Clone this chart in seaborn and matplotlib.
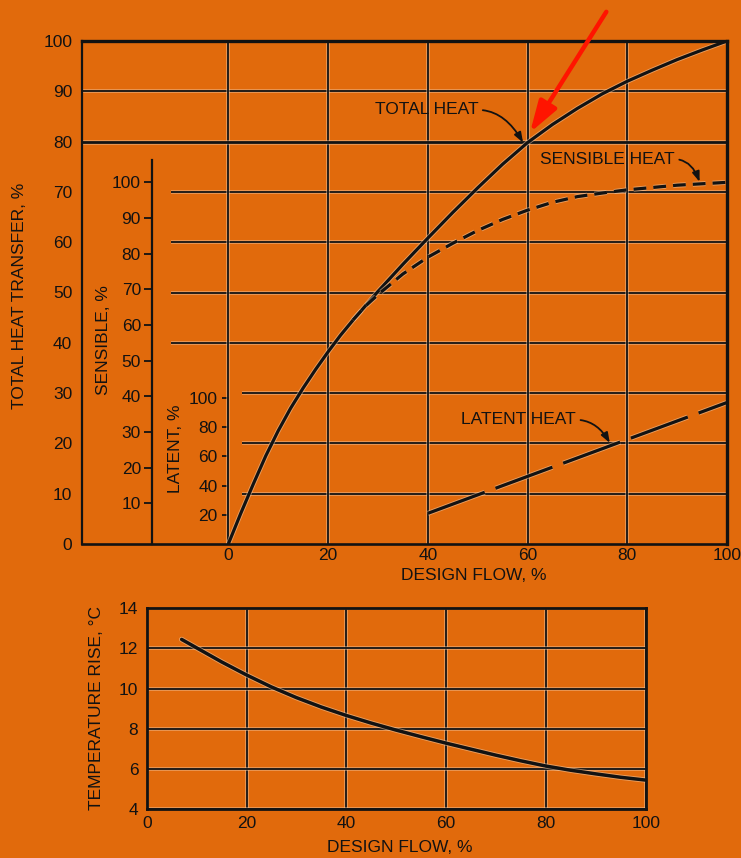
import matplotlib
matplotlib.use("Agg")
import matplotlib.pyplot as plt
import matplotlib.patheffects as pe
import pandas as pd
import seaborn as sns

# ---- curve readings (design flow in %) ----
flow_total = [0, 2.5, 5, 7.5, 10, 12.5, 15, 17.5, 20, 22.5, 25, 30, 35, 40,
              45, 50, 55, 60, 65, 70, 75, 80, 85, 90, 95, 100]
total_heat = [0, 6.1, 11.9, 17.5, 22.5, 27.0, 31.0, 34.7, 38.2, 41.5, 44.5,
              50.2, 55.6, 60.8, 65.9, 70.8, 75.5, 79.8, 83.4, 86.6, 89.5,
              92.0, 94.2, 96.3, 98.2, 100]

flow_sensible = [25, 27.5, 30, 35, 40, 45, 50, 55, 60, 65, 70, 75, 80, 90, 100]
sensible_heat = [61.4, 65.3, 68.5, 74.3, 79.0, 82.9, 86.5, 89.6, 92.2, 94.4,
                 96.0, 97.0, 97.9, 99.2, 100]

flow_latent = [40, 100]
latent_heat = [21, 97]

flow_temp = [7, 10, 15, 20, 25, 30, 35, 40, 45, 50, 55, 60, 65, 70, 75, 80,
             85, 90, 95, 100]
temp_rise = [12.45, 12.03, 11.33, 10.68, 10.08, 9.55, 9.08, 8.66, 8.28, 7.93,
             7.6, 7.28, 6.98, 6.68, 6.4, 6.14, 5.93, 5.75, 5.58, 5.44]

# ---- tick sets ----
flow_ticks = [0, 20, 40, 60, 80, 100]
total_ticks = list(range(0, 101, 10))
sensible_ticks = list(range(10, 101, 10))
latent_ticks = [20, 40, 60, 80, 100]
temp_ticks = [4, 6, 8, 10, 12, 14]

# the sensible and latent scales expressed on the total-heat scale
SENS_OFFSET, SENS_SLOPE = 1.0, 0.709
LAT_SLOPE = 0.29

BG = "#E16A0C"
INK = "#121212"
HALO = "#F2CBA6"
RED = "#FF1400"
FS = 12.5

sns.set_theme(style="white", rc={
    "axes.facecolor": BG, "figure.facecolor": BG, "axes.edgecolor": INK,
    "text.color": INK, "xtick.color": INK, "ytick.color": INK,
    "axes.labelcolor": INK,
})
plt.rcParams["font.family"] = ["Liberation Sans", "DejaVu Sans"]

W, H = 741, 858


def fx(px):
    return px / W


def fy(py):
    return 1 - py / H


def halo(width):
    return [pe.Stroke(linewidth=width + 1.3, foreground=HALO, alpha=0.55),
            pe.Normal()]


fig = plt.figure(figsize=(W / 100, H / 100), dpi=100)
fig.patch.set_facecolor(BG)

# ================= heat transfer chart =================
XMIN = -29.34
ax = fig.add_axes([fx(82), fy(544), (727 - 82) / W, (544 - 41) / H])
ax.set_facecolor(BG)

# grid segments
GLW = 1.3
grid = [
    ax.hlines([90], XMIN, 100, color=INK, lw=GLW),
    ax.hlines([40, 50, 60, 70], -11.5, 100, color=INK, lw=GLW),
    ax.hlines([10, 20, 30], 2.7, 100, color=INK, lw=GLW),
    ax.vlines([0, 20, 40, 60, 80], 0, 100, color=INK, lw=GLW),
]
for g in grid:
    g.set_path_effects(halo(GLW))
ax.hlines([80], XMIN, 100, color=INK, lw=2.0).set_path_effects(halo(2.0))

df_total = pd.DataFrame({"flow": flow_total, "heat": total_heat})
sns.lineplot(data=df_total, x="flow", y="heat", ax=ax, color=INK,
             linewidth=2.3)

df_sens = pd.DataFrame({
    "flow": flow_sensible,
    "heat": [SENS_OFFSET + SENS_SLOPE * s for s in sensible_heat],
})
sns.lineplot(data=df_sens, x="flow", y="heat", ax=ax, color=INK,
             linewidth=2.3, linestyle=(0, (4, 2.2)))

df_lat = pd.DataFrame({
    "flow": flow_latent,
    "heat": [LAT_SLOPE * v for v in latent_heat],
})
sns.lineplot(data=df_lat, x="flow", y="heat", ax=ax, color=INK,
             linewidth=2.3, linestyle=(0, (19, 3.6)))

for line in ax.get_lines():
    line.set_path_effects(halo(2.3))

ax.set_xlim(XMIN, 100)
ax.set_ylim(0, 100)
ax.set_xlabel("")
ax.set_ylabel("")
ax.set_xticks(flow_ticks)
ax.set_yticks(total_ticks)
ax.tick_params(axis="x", length=0, pad=3.2, labelsize=FS)
ax.tick_params(axis="y", direction="in", length=4.5, width=1.3, pad=7,
               labelsize=FS)
for side, lw in (("top", 2.4), ("right", 2.4), ("bottom", 1.9), ("left", 1.6)):
    ax.spines[side].set_visible(True)
    ax.spines[side].set_linewidth(lw)
    ax.spines[side].set_color(INK)

# sensible scale
sens = ax.secondary_yaxis(
    (152.3 - 82) / 645,
    functions=(lambda t: (t - SENS_OFFSET) / SENS_SLOPE,
               lambda s: SENS_OFFSET + SENS_SLOPE * s))
sens.set_yticks(sensible_ticks)
sens.spines["left"].set_bounds(-1.4, 106.3)
sens.spines["left"].set_linewidth(1.6)
sens.tick_params(axis="y", direction="out", length=5.8, width=1.3, pad=2.4,
                 labelsize=FS)

# latent scale
lat = ax.secondary_yaxis(
    (228.3 - 82) / 645,
    functions=(lambda t: t / LAT_SLOPE, lambda v: LAT_SLOPE * v))
lat.set_yticks(latent_ticks)
lat.spines["left"].set_bounds(0, 100)
lat.spines["left"].set_linewidth(1.3)
lat.tick_params(axis="y", direction="out", length=4.5, width=1.3, pad=3.2,
                labelsize=FS)

# curve call-outs
lead = dict(arrowstyle="-|>,head_length=0.6,head_width=0.22", color=INK,
            lw=1.3, mutation_scale=10, shrinkA=1, shrinkB=0, relpos=(1, 0.5))
ax.annotate("TOTAL HEAT", xy=(59.1, 79.8), xytext=(50.1, 86.3),
            ha="right", va="center", fontsize=FS,
            arrowprops={**lead, "connectionstyle": "angle3,angleA=0,angleB=-60"})
ax.annotate("SENSIBLE HEAT", xy=(94.5, 72.0), xytext=(89.5, 76.5),
            ha="right", va="center", fontsize=FS,
            arrowprops={**lead, "connectionstyle": "angle3,angleA=0,angleB=-70"})
ax.annotate("LATENT HEAT", xy=(76.5, 20.1), xytext=(69.7, 24.7),
            ha="right", va="center", fontsize=FS,
            arrowprops={**lead, "connectionstyle": "angle3,angleA=0,angleB=-60"})

# red pointer to the 60 % flow / 80 % heat point
ax.annotate("", xy=(60.5, 81.8), xytext=(75.8, 105.8), annotation_clip=False,
            arrowprops=dict(arrowstyle="-|>,head_length=1.9,head_width=0.6",
                            color=RED, lw=3.2, mutation_scale=10,
                            shrinkA=0, shrinkB=0))

fig.text(fx(20), fy(296), "TOTAL HEAT TRANSFER, %", rotation=90,
         ha="center", va="center", fontsize=FS)
fig.text(fx(103), fy(340), "SENSIBLE, %", rotation=90,
         ha="center", va="center", fontsize=FS)
fig.text(fx(175), fy(449), "LATENT, %", rotation=90,
         ha="center", va="center", fontsize=FS)
fig.text(fx(474), fy(575), "DESIGN FLOW, %", ha="center", va="center",
         fontsize=FS)

# ================= temperature rise chart =================
ax2 = fig.add_axes([fx(146.7), fy(809), (645.7 - 146.7) / W,
                    (809 - 608.3) / H])
ax2.set_facecolor(BG)
df_temp = pd.DataFrame({"flow": flow_temp, "rise": temp_rise})
sns.lineplot(data=df_temp, x="flow", y="rise", ax=ax2, color=INK,
             linewidth=2.5)
for line in ax2.get_lines():
    line.set_path_effects(halo(2.5))
ax2.set_xlim(0, 100)
ax2.set_ylim(4, 14)
ax2.set_xticks(flow_ticks)
ax2.set_yticks(temp_ticks)
ax2.set_xlabel("")
ax2.set_ylabel("")
ax2.grid(True, color=INK, lw=GLW, path_effects=halo(GLW))
ax2.set_axisbelow(True)
ax2.tick_params(axis="x", length=0, pad=5, labelsize=FS)
ax2.tick_params(axis="y", length=0, pad=6, labelsize=FS)
for side in ("top", "right", "bottom", "left"):
    ax2.spines[side].set_visible(True)
    ax2.spines[side].set_linewidth(2.0)
    ax2.spines[side].set_color(INK)

fig.text(fx(97), fy(708), "TEMPERATURE RISE, °C", rotation=90,
         ha="center", va="center", fontsize=FS)
fig.text(fx(400), fy(848), "DESIGN FLOW, %", ha="center", va="center",
         fontsize=FS)

fig.savefig("out.png", dpi=100, facecolor=BG)
